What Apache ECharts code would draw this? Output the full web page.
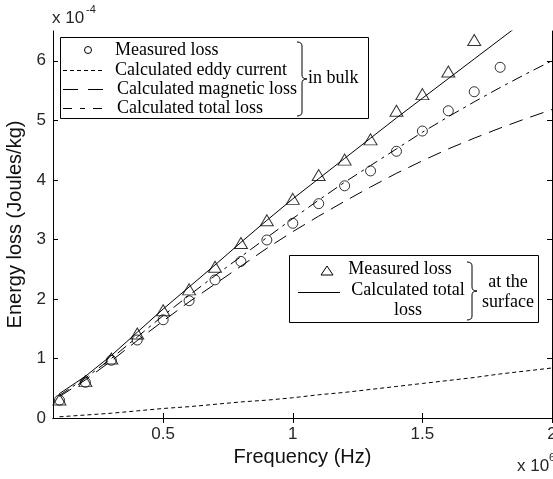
<!DOCTYPE html>
<html><head><meta charset="utf-8">
<script src="https://cdn.jsdelivr.net/npm/echarts@6/dist/echarts.min.js"></script>
<style>html,body{margin:0;padding:0;background:#fff}#c{width:553px;height:479px}</style>
</head><body><div id="c"></div>
<script>
// x in units of 1e6 Hz, y in units of 1e-4 J/kg
const freqLine = [0.1,0.2,0.3,0.4,0.5,0.6,0.7,0.8,0.9,1.0,1.1,1.2,1.3,1.4,1.5,1.6,1.7,1.8,1.9,2.0];
const eddyCurrent  = [0.02,0.05,0.08,0.12,0.16,0.19,0.23,0.27,0.30,0.34,0.39,0.43,0.48,0.53,0.58,0.63,0.68,0.74,0.79,0.84];
const magneticLoss = [0.36,0.64,0.96,1.30,1.63,1.95,2.25,2.55,2.85,3.13,3.39,3.64,3.88,4.11,4.32,4.52,4.70,4.87,5.03,5.18];
const bulkTotal    = [0.38,0.67,1.00,1.36,1.72,2.06,2.39,2.71,3.03,3.35,3.66,3.96,4.24,4.52,4.80,5.06,5.31,5.55,5.78,6.00];
const surfaceTotal = [0.41,0.70,1.05,1.44,1.83,2.20,2.57,2.95,3.32,3.68,4.02,4.36,4.70,5.04,5.37,5.70,6.03,6.36,6.69,7.00];
const freqBulk = [0.1,0.2,0.3,0.4,0.5,0.6,0.7,0.8,0.9,1.0,1.1,1.2,1.3,1.4,1.5,1.6,1.7,1.8];
const measuredBulk = [0.30,0.60,0.97,1.31,1.65,1.97,2.32,2.63,2.99,3.27,3.60,3.90,4.15,4.48,4.82,5.16,5.48,5.89];
const freqSurface = [0.1,0.2,0.3,0.4,0.5,0.6,0.7,0.8,0.9,1.0,1.1,1.2,1.3,1.4,1.5,1.6,1.7];
const measuredSurface = [0.31,0.62,1.00,1.42,1.81,2.16,2.54,2.94,3.32,3.68,4.08,4.34,4.68,5.16,5.44,5.82,6.35];
const xTicks = [0.5,1,1.5,2];
const yTicks = [0,1,2,3,4,5,6];

const zip = (xs, ys) => xs.map((x, i) => [x, ys[i]]);
const SANS = '"Liberation Sans", Arial, Helvetica, sans-serif';
const SERIF = '"Liberation Serif", "Times New Roman", serif';
const LBL = '#262626';

const chart = echarts.init(document.getElementById('c'), null, {renderer: 'canvas'});

const strokeStyle = {fill: 'none', stroke: '#000', lineWidth: 1};
function brace(x0, y0, y1, w) {
  const ym = (y0 + y1) / 2, xm = x0 + w / 2, r = 4;
  return [
    {type: 'bezierCurve', z: 100, shape: {x1: x0, y1: y0, cpx1: xm, cpy1: y0, x2: xm, y2: y0 + r}, style: strokeStyle},
    {type: 'line', z: 100, shape: {x1: xm, y1: y0 + r, x2: xm, y2: ym - r}, style: strokeStyle},
    {type: 'bezierCurve', z: 100, shape: {x1: xm, y1: ym - r, cpx1: xm, cpy1: ym, x2: x0 + w, y2: ym}, style: strokeStyle},
    {type: 'bezierCurve', z: 100, shape: {x1: x0 + w, y1: ym, cpx1: xm, cpy1: ym, x2: xm, y2: ym + r}, style: strokeStyle},
    {type: 'line', z: 100, shape: {x1: xm, y1: ym + r, x2: xm, y2: y1 - r}, style: strokeStyle},
    {type: 'bezierCurve', z: 100, shape: {x1: xm, y1: y1 - r, cpx1: xm, cpy1: y1, x2: x0, y2: y1}, style: strokeStyle}
  ];
}
const txt = (text, x, y, opts) => ({type: 'text', z: 100, style: Object.assign({text, x, y, font: '18px ' + SERIF, fill: '#000', verticalAlign: 'middle', align: 'left'}, opts || {})});
const ln = (x1, y1, x2, y2, dash) => ({type: 'line', z: 100, shape: {x1, y1, x2, y2}, style: {stroke: '#000', lineWidth: 1, lineDash: dash || null}});

const lineStyleBase = {color: '#000', width: 1};

chart.setOption({
  animation: false,
  backgroundColor: '#fff',
  grid: {left: 53, right: 1, top: 31, bottom: 61, containLabel: false, outerBoundsMode: 'none'},
  xAxis: [
    {type: 'value', min: 0.075, max: 2, position: 'bottom',
     axisLine: {show: true, lineStyle: {color: '#000', width: 1}},
     axisTick: {show: true, inside: true, length: 5, customValues: xTicks, lineStyle: {color: '#000'}},
     axisLabel: {show: true, customValues: xTicks, formatter: v => String(v), fontSize: 17, color: LBL, fontFamily: SANS, margin: 8, showMaxLabel: true, hideOverlap: false},
     splitLine: {show: false},
     name: 'Frequency (Hz)', nameLocation: 'middle', nameGap: 24,
     nameTextStyle: {fontSize: 20, color: '#111', fontFamily: SANS}},
    {type: 'value', min: 0.075, max: 2, position: 'top',
     axisLine: {show: true, lineStyle: {color: '#000', width: 1}},
     axisTick: {show: true, inside: true, length: 5, customValues: xTicks, lineStyle: {color: '#000'}},
     axisLabel: {show: false}, splitLine: {show: false}}
  ],
  yAxis: [
    {type: 'value', min: 0, max: 6.5, position: 'left',
     axisLine: {show: true, lineStyle: {color: '#000', width: 1}},
     axisTick: {show: true, inside: true, length: 5, customValues: yTicks, lineStyle: {color: '#000'}},
     axisLabel: {show: true, customValues: yTicks, fontSize: 17, color: LBL, fontFamily: SANS, margin: 7},
     splitLine: {show: false},
     name: 'Energy loss (Joules/kg)', nameLocation: 'middle', nameGap: 21,
     nameTextStyle: {fontSize: 20, color: '#111', fontFamily: SANS}},
    {type: 'value', min: 0, max: 6.5, position: 'right',
     axisLine: {show: true, lineStyle: {color: '#000', width: 1}},
     axisTick: {show: true, inside: true, length: 5, customValues: yTicks, lineStyle: {color: '#000'}},
     axisLabel: {show: false}, splitLine: {show: false}}
  ],
  series: [
    {name: 'Calculated eddy current', type: 'line', data: zip(freqLine, eddyCurrent), symbol: 'none', clip: true,
     lineStyle: Object.assign({type: [4, 3]}, lineStyleBase)},
    {name: 'Calculated magnetic loss', type: 'line', data: zip(freqLine, magneticLoss), symbol: 'none', clip: true,
     lineStyle: Object.assign({type: [14, 8]}, lineStyleBase)},
    {name: 'Calculated total loss (bulk)', type: 'line', data: zip(freqLine, bulkTotal), symbol: 'none', clip: true,
     lineStyle: Object.assign({type: [11, 5, 3, 5]}, lineStyleBase)},
    {name: 'Calculated total loss (surface)', type: 'line', data: zip(freqLine, surfaceTotal), symbol: 'none', clip: true,
     lineStyle: Object.assign({type: 'solid'}, lineStyleBase)},
    {name: 'Measured loss (bulk)', type: 'scatter', data: zip(freqBulk, measuredBulk), symbol: 'circle', symbolSize: 10,
     itemStyle: {color: 'transparent', borderColor: '#000', borderWidth: 1}},
    {name: 'Measured loss (surface)', type: 'scatter', data: zip(freqSurface, measuredSurface), symbol: 'triangle', symbolSize: [13, 11],
     itemStyle: {color: 'transparent', borderColor: '#000', borderWidth: 1}}
  ],
  graphic: [
    // exponent labels
    txt('x 10', 52, 18, {font: '17px ' + SANS, fill: LBL}),
    txt('-4', 86, 10, {font: '11px ' + SANS, fill: LBL}),
    txt('x 10', 517, 466, {font: '17px ' + SANS, fill: LBL}),
    txt('6', 549, 458, {font: '11px ' + SANS, fill: LBL}),
    // bulk legend
    {type: 'rect', z: 99, shape: {x: 60.5, y: 37.5, width: 308, height: 81}, style: {fill: '#fff', stroke: '#000', lineWidth: 1}},
    {type: 'circle', z: 100, shape: {cx: 88, cy: 50, r: 3.5}, style: strokeStyle},
    txt('Measured loss', 115, 50),
    ln(63, 70.5, 105, 70.5, [4, 3]),
    txt('Calculated eddy current', 115, 70),
    ln(63, 89.5, 105, 89.5, [15, 10]),
    txt('Calculated magnetic loss', 117, 89),
    ln(63, 108.5, 105, 108.5, [9, 8, 5, 8]),
    txt('Calculated total loss', 117, 108),
    ...brace(297, 42, 116, 10),
    txt('in bulk', 308, 78),
    // surface legend
    {type: 'rect', z: 99, shape: {x: 289.5, y: 255.5, width: 249, height: 67}, style: {fill: '#fff', stroke: '#000', lineWidth: 1}},
    {type: 'polygon', z: 100, shape: {points: [[321, 275], [333, 275], [327, 266]]}, style: strokeStyle},
    txt('Measured loss', 400, 269, {align: 'center'}),
    ln(298, 292.5, 340, 292.5),
    txt('Calculated total', 408, 290, {align: 'center'}),
    txt('loss', 408, 310, {align: 'center'}),
    ...brace(467, 262, 320, 10),
    txt('at the', 508, 282, {align: 'center'}),
    txt('surface', 508, 302, {align: 'center'})
  ]
});
</script>
</body></html>
